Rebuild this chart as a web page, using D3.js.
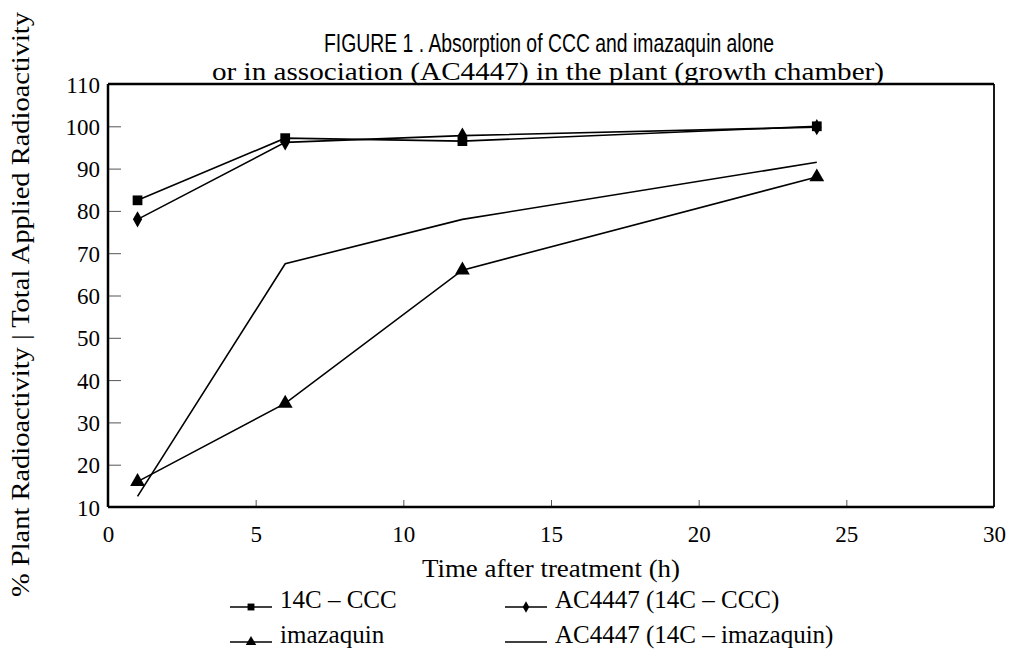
<!DOCTYPE html>
<html>
<head>
<meta charset="utf-8">
<script src="https://cdn.jsdelivr.net/npm/d3@7"></script>
<style>
  body { margin: 0; background: #fff; }
  svg { display: block; }
</style>
</head>
<body>
<svg width="1010" height="652"></svg>
<script>
// hours after treatment
const hours = [1, 6, 12, 24];
const ccc = [82.5, 97.2, 96.5, 100];
const acCcc = [78, 96.2, 97.8, 99.8];
const imazaquin = [16, 34.5, 66, 88];
const acImazaquin = [12.5, 67.5, 78, 91.5];

const xTicks = [0, 5, 10, 15, 20, 25, 30];
const yTicks = [10, 20, 30, 40, 50, 60, 70, 80, 90, 100, 110];

const series = [
  { name: '14C \u2013 CCC', values: ccc, symbol: d3.symbolSquare, size: 95 },
  { name: 'AC4447 (14C \u2013 CCC)', values: acCcc, symbol: d3.symbolDiamond, size: 75 },
  { name: 'imazaquin', values: imazaquin, symbol: d3.symbolTriangle, size: 95 },
  { name: 'AC4447 (14C \u2013 imazaquin)', values: acImazaquin, symbol: null }
];

const svg = d3.select('svg');
const serif = '"Liberation Serif", "Times New Roman", serif';

const x = d3.scaleLinear().domain([0, 30]).range([108, 994]);
const y = d3.scaleLinear().domain([10, 110]).range([507, 84]);

// title
svg.append('text')
  .attr('x', 549).attr('y', 52)
  .attr('text-anchor', 'middle')
  .attr('textLength', 450)
  .attr('lengthAdjust', 'spacingAndGlyphs')
  .style('font-family', '"Liberation Sans", Arial, sans-serif')
  .style('font-size', '26px')
  .text('FIGURE 1 . Absorption of CCC and imazaquin alone');
svg.append('text')
  .attr('x', 548).attr('y', 80)
  .attr('text-anchor', 'middle')
  .attr('textLength', 672)
  .attr('lengthAdjust', 'spacingAndGlyphs')
  .style('font-family', serif)
  .style('font-size', '26px')
  .text('or in association (AC4447) in the plant (growth chamber)');

// axes with inward ticks
const yAxis = svg.append('g')
  .attr('transform', `translate(${x(0)},0)`)
  .call(d3.axisLeft(y).tickValues(yTicks).tickSize(-13).tickPadding(8));
const xAxis = svg.append('g')
  .attr('transform', `translate(0,${y(10)})`)
  .call(d3.axisBottom(x).tickValues(xTicks).tickSize(-7).tickPadding(19));

[xAxis, yAxis].forEach(a => {
  a.select('.domain').remove();
  a.selectAll('.tick line').attr('stroke', '#555').attr('stroke-width', 1);
  a.selectAll('text')
    .style('font-family', serif)
    .style('font-size', '23px')
    .attr('fill', '#000');
});
yAxis.selectAll('text').attr('text-anchor', 'end').attr('dy', '0.35em')
  .attr('x', -8);
xAxis.selectAll('.tick line').filter(d => d === 0 || d === 30).remove();
yAxis.selectAll('.tick line').filter(d => d === 10 || d === 110).remove();

// frame
svg.append('line').attr('x1', x(0)).attr('x2', x(30)).attr('y1', y(110)).attr('y2', y(110))
  .attr('stroke', '#000').attr('stroke-width', 2.5);
svg.append('line').attr('x1', x(0)).attr('x2', x(30)).attr('y1', y(10)).attr('y2', y(10))
  .attr('stroke', '#000').attr('stroke-width', 2.5);
svg.append('line').attr('x1', x(0)).attr('x2', x(0)).attr('y1', y(110)).attr('y2', y(10))
  .attr('stroke', '#000').attr('stroke-width', 2.5);
svg.append('line').attr('x1', x(30)).attr('x2', x(30)).attr('y1', y(110)).attr('y2', y(10))
  .attr('stroke', '#000').attr('stroke-width', 1.8);

// axis titles
svg.append('text')
  .attr('transform', `translate(29,${(y(10) + y(110)) / 2 + 9}) rotate(-90)`)
  .attr('text-anchor', 'middle')
  .attr('textLength', 585)
  .attr('lengthAdjust', 'spacingAndGlyphs')
  .style('font-family', serif)
  .style('font-size', '26px')
  .text('% Plant Radioactivity | Total Applied Radioactivity');
svg.append('text')
  .attr('x', 551).attr('y', 577)
  .attr('text-anchor', 'middle')
  .attr('textLength', 258)
  .attr('lengthAdjust', 'spacingAndGlyphs')
  .style('font-family', serif)
  .style('font-size', '26px')
  .text('Time after treatment (h)');

// lines and markers
const line = d3.line().x((d, i) => x(hours[i])).y(d => y(d));
series.forEach(s => {
  svg.append('path')
    .attr('d', line(s.values))
    .attr('fill', 'none')
    .attr('stroke', '#000')
    .attr('stroke-width', 1.6);
  if (s.symbol) {
    svg.append('g').selectAll('path')
      .data(s.values)
      .enter()
      .append('path')
      .attr('transform', (d, i) => `translate(${x(hours[i])},${y(d)})`)
      .attr('d', d3.symbol().type(s.symbol).size(s.size))
      .attr('fill', '#000');
  }
});

// legend
const legendPos = [[230, 607], [505, 607], [230, 642], [505, 642]];
series.forEach((s, j) => {
  const [lx, ly] = legendPos[j];
  const g = svg.append('g').attr('transform', `translate(${lx},${ly})`);
  g.append('line').attr('x1', 0).attr('x2', 42).attr('y1', 0).attr('y2', 0)
    .attr('stroke', '#000').attr('stroke-width', 1.6);
  if (s.symbol) {
    g.append('path').attr('transform', 'translate(21,0)')
      .attr('d', d3.symbol().type(s.symbol).size(s.size * 0.5))
      .attr('fill', '#000');
  }
  g.append('text').attr('x', 50).attr('y', 0).attr('dy', '0.05em')
    .style('font-family', serif)
    .style('font-size', '25px')
    .text(s.name);
});
</script>
</body>
</html>
